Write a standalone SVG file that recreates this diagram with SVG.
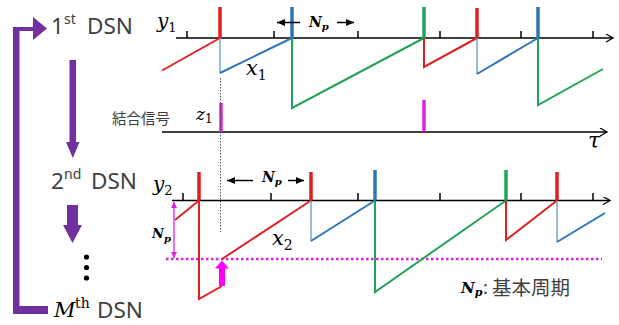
<svg xmlns="http://www.w3.org/2000/svg" width="619" height="325" viewBox="0 0 619 325">
<defs>
<marker id="ax" markerWidth="10" markerHeight="10" refX="8" refY="4" orient="auto" markerUnits="userSpaceOnUse"><path d="M1,0 L8,4 L1,8" fill="none" stroke="#000" stroke-width="1.3"/></marker>
<marker id="ah" markerWidth="10" markerHeight="8" refX="8" refY="4" orient="auto" markerUnits="userSpaceOnUse"><path d="M0,0.5 L8,4 L0,7.5 Z" fill="#000"/></marker>
<marker id="mh" markerWidth="8" markerHeight="8" refX="6" refY="3" orient="auto" markerUnits="userSpaceOnUse"><path d="M0,0 L6,3 L0,6 Z" fill="#E020E0"/></marker>
</defs>
<style>
.lbl{font-family:"Noto Sans","Noto Sans CJK JP",sans-serif;fill:#404040}
.sup{font-family:"Noto Sans","Noto Sans CJK JP",sans-serif;fill:#404040;font-size:14px}
.math{font-family:"DejaVu Serif","Liberation Serif",serif;font-style:italic;fill:#000}
.up{font-family:"DejaVu Serif","Liberation Serif",serif;font-style:normal;fill:#000}
.np{font-family:"DejaVu Serif","Liberation Serif",serif;font-style:italic;font-weight:bold;fill:#000}
.axis{stroke:#000;stroke-width:1.5;fill:none}
.tick{stroke:#000;stroke-width:1.5}
.r{stroke:#E02020;stroke-width:2;fill:none}
.b{stroke:#2E75B6;stroke-width:2;fill:none}
.bt{stroke:#5B9BD5;stroke-width:1.3;fill:none}
.g{stroke:#22A35A;stroke-width:2;fill:none}
.pr{stroke:#E02020;stroke-width:3.5}
.pb{stroke:#2E75B6;stroke-width:3.5}
.pg{stroke:#22A35A;stroke-width:3.5}
.pm{stroke:#E020E0;stroke-width:3.5}
.purple{fill:#7030A0}
</style>

<!-- left flow -->
<g id="flow">
<path class="purple" d="M13,27 L33,27 L33,17 L47,28.5 L33,40 L33,31 L19.5,31 L19.5,306 L48,306 L48,314 L13,314 Z"/>
<path class="purple" d="M69.5,60 L76,60 L76,142 L79.5,142 L72.8,158 L66,142 L69.5,142 Z"/>
<path class="purple" d="M67,205 L78,205 L78,225 L82,225 L72.5,243 L63,225 L67,225 Z"/>
<circle cx="86.5" cy="257" r="2.6" fill="#000"/>
<circle cx="86.5" cy="267.5" r="2.6" fill="#000"/>
<circle cx="86.5" cy="278" r="2.6" fill="#000"/>
</g>
<g id="dsn1">
<text class="lbl" x="51" y="34" font-size="22.5">1</text>
<text class="sup" x="64" y="24">st</text>
<text class="lbl" x="87" y="34" font-size="22.5">DSN</text>
</g>
<g id="dsn2">
<text class="lbl" x="51" y="188.5" font-size="22.5">2</text>
<text class="sup" x="64" y="179">nd</text>
<text class="lbl" x="91" y="188.5" font-size="22.5">DSN</text>
</g>
<g id="dsnM">
<text class="math" x="54" y="317" font-size="21">M</text>
<text class="up" x="75" y="308" font-size="14">th</text>
<text class="lbl" x="97" y="317.5" font-size="22.5">DSN</text>
</g>

<!-- panel 1 -->
<g id="panel1">
<line class="axis" x1="176" y1="38" x2="613" y2="38" marker-end="url(#ax)"/>
<g class="tick">
<line x1="187" y1="31" x2="187" y2="38"/><line x1="274" y1="31" x2="274" y2="38"/><line x1="358" y1="31" x2="358" y2="38"/>
<line x1="440" y1="31" x2="440" y2="38"/><line x1="521" y1="31" x2="521" y2="38"/><line x1="593" y1="31" x2="593" y2="38"/>
</g>
<path class="r" d="M162,70.5 L220,38"/>
<path class="bt" d="M220,38 L220,73"/>
<path class="b" d="M220,73 L292,38"/>
<path class="g" d="M292,38 L292,108 L424,38"/>
<path class="r" d="M424,38 L424,67 L477,38"/>
<path class="bt" d="M477,38 L477,74"/>
<path class="b" d="M477,74 L538,38"/>
<path class="g" d="M538,38 L538,105 L603,69"/>
<line class="pr" x1="220" y1="7" x2="220" y2="38"/>
<line class="pb" x1="292" y1="7" x2="292" y2="38"/>
<line class="pg" x1="424" y1="7" x2="424" y2="38"/>
<line class="pr" x1="477" y1="8" x2="477" y2="38"/>
<line class="pb" x1="538" y1="7" x2="538" y2="38"/>
<text class="math" x="157" y="28" font-size="20">y<tspan font-size="13" style="font-style:normal" dy="4">1</tspan></text>
<text class="math" x="246" y="75" font-size="21">x<tspan font-size="14" style="font-style:normal" dy="5">1</tspan></text>
<line x1="300" y1="22.5" x2="277" y2="22.5" stroke="#000" stroke-width="1.5" marker-end="url(#ah)"/>
<line x1="337" y1="22.5" x2="354" y2="22.5" stroke="#000" stroke-width="1.5" marker-end="url(#ah)"/>
<text class="np" x="309" y="27" font-size="14">N<tspan font-size="10" dy="3">p</tspan></text>
</g>

<!-- coupling signal -->
<g id="coupling">
<line class="axis" x1="162" y1="132" x2="607" y2="132" marker-end="url(#ax)"/>
<line class="pm" x1="221" y1="103" x2="221" y2="132"/>
<line class="pm" x1="424" y1="100" x2="424" y2="132"/>
<text class="lbl" x="112" y="123.5" font-size="14.5">結合信号</text>
<text class="math" x="196" y="120" font-size="17">z<tspan font-size="12" style="font-style:normal" dy="3">1</tspan></text>
<text class="math" x="588" y="148" font-size="22">τ</text>
</g>

<line id="sync" x1="220.5" y1="78" x2="220.5" y2="232" stroke="#555" stroke-width="1" stroke-dasharray="1.5 1.5"/>

<!-- panel 2 -->
<g id="panel2">
<line class="axis" x1="172" y1="200.5" x2="610" y2="200.5" marker-end="url(#ax)"/>
<g class="tick">
<line x1="183" y1="193" x2="183" y2="200.5"/><line x1="271" y1="193" x2="271" y2="200.5"/><line x1="358" y1="193" x2="358" y2="200.5"/>
<line x1="440" y1="193" x2="440" y2="200.5"/><line x1="521" y1="193" x2="521" y2="200.5"/><line x1="593" y1="193" x2="593" y2="200.5"/>
</g>
<line x1="166" y1="259" x2="602" y2="259" stroke="#E020E0" stroke-width="2.5" stroke-dasharray="2.5 2.5"/>
<path class="r" d="M175,220 L199,200.5 L199,299 L222,286"/>
<path class="r" d="M222,259 L311,200.5"/>
<path class="bt" d="M311,200.5 L311,241"/>
<path class="b" d="M311,241 L375,200.5"/>
<path class="g" d="M375,200.5 L375,292 L506,200.5"/>
<path class="r" d="M506,200.5 L506,240 L557,200.5"/>
<path class="bt" d="M557,200.5 L557,242"/>
<path class="b" d="M557,242 L605,213"/>
<line class="pr" x1="199" y1="172" x2="199" y2="200.5"/>
<line class="pr" x1="311" y1="172" x2="311" y2="200.5"/>
<line class="pb" x1="375" y1="170" x2="375" y2="200.5"/>
<line class="pg" x1="506" y1="170" x2="506" y2="200.5"/>
<line class="pr" x1="557" y1="172" x2="557" y2="200.5"/>
<path d="M219,286 L225,286 L225,268.5 L229,268.5 L222,260.5 L215,268.5 L219,268.5 Z" fill="#FF00FF"/>
<line x1="174" y1="230" x2="174" y2="202" stroke="#E020E0" stroke-width="1.3" marker-end="url(#mh)"/>
<line x1="174" y1="230" x2="174" y2="258" stroke="#E020E0" stroke-width="1.3" marker-end="url(#mh)"/>
<text class="np" x="152" y="238" font-size="13">N<tspan font-size="10" dy="4">p</tspan></text>
<text class="math" x="153" y="191" font-size="20">y<tspan font-size="13" style="font-style:normal" dy="4">2</tspan></text>
<text class="math" x="272" y="245" font-size="21">x<tspan font-size="14" style="font-style:normal" dy="5">2</tspan></text>
<line x1="253" y1="180.5" x2="227" y2="180.5" stroke="#000" stroke-width="1.5" marker-end="url(#ah)"/>
<line x1="288" y1="180.5" x2="304" y2="180.5" stroke="#000" stroke-width="1.5" marker-end="url(#ah)"/>
<text class="np" x="262" y="182" font-size="14">N<tspan font-size="10" dy="3">p</tspan></text>
</g>

<g id="legend">
<text class="np" x="461" y="293" font-size="15">N<tspan font-size="11" dy="3">p</tspan></text>
<text class="lbl" x="483" y="294" font-size="18">:</text>
<text class="lbl" x="492" y="295" font-size="19.5">基本周期</text>
</g>
</svg>
